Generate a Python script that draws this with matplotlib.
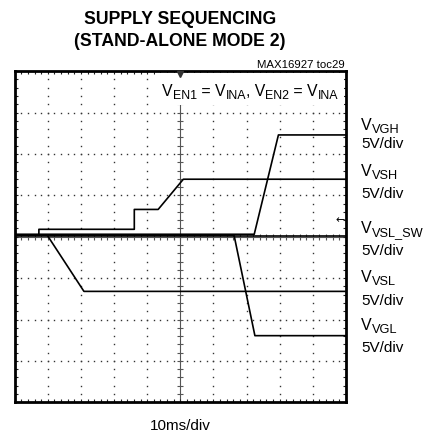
import numpy as np
import matplotlib
matplotlib.use("Agg")
import matplotlib.pyplot as plt
from matplotlib.patches import Rectangle
from matplotlib.transforms import IdentityTransform

plt.rcParams['font.family'] = ['Liberation Sans', 'DejaVu Sans']

# ---- data (x in time divisions, y in vertical divisions) ----
vgh_t = [0, 7.23, 7.96, 10]
vgh_v = [0.06, 0.06, 2.46, 2.46]

vsh_t = [0, 0.73, 0.73, 3.61, 3.61, 4.33, 5.09, 10]
vsh_v = [0.04, 0.04, 0.18, 0.18, 0.66, 0.66, 1.39, 1.39]

vslsw_t = [0, 10]
vslsw_v = [0.03, 0.03]

vsl_t = [0, 0.98, 2.09, 10]
vsl_v = [0.04, 0.04, -1.32, -1.32]

vgl_t = [0, 6.62, 7.25, 10]
vgl_v = [0.04, 0.04, -2.39, -2.39]

label_subs = ['VGH', 'VSH', 'VSL_SW', 'VSL', 'VGL']
scale_text = '5V/div'

W, H = 427, 433
fig = plt.figure(figsize=(W / 100, H / 100), dpi=100)
renderer = fig.canvas.get_renderer()
ax = fig.add_axes([14.7 / W, 1 - 402.3 / H, 331.3 / W, 331.1 / H])
ax.set_xlim(0, 10)
ax.set_ylim(-4, 4)

# graticule dots
minor_x = np.arange(0, 10.001, 0.2)
minor_y = np.arange(-4, 4.001, 0.2)
for gy in [-3, -2, -1, 1, 2, 3]:
    ax.plot(minor_x, np.full_like(minor_x, gy), ls='none', marker='s', ms=1.0,
            color='#333333', mew=0, zorder=1)
for gx in [1, 2, 3, 4, 6, 7, 8, 9]:
    ax.plot(np.full_like(minor_y, gx), minor_y, ls='none', marker='s', ms=1.0,
            color='#333333', mew=0, zorder=1)

# center axes with ticks
ax.axhline(0, color='#555555', lw=0.8, zorder=1)
ax.axvline(5, color='#555555', lw=0.8, zorder=1)
ax.plot(minor_x, np.zeros_like(minor_x), ls='none', marker='|', ms=4.5,
        color='#555555', mew=0.8, zorder=1)
ax.plot(np.full_like(minor_y, 5), minor_y, ls='none', marker='_', ms=5,
        color='#555555', mew=0.8, zorder=1)

# traces
for t, v in [(vgh_t, vgh_v), (vsh_t, vsh_v), (vslsw_t, vslsw_v),
             (vsl_t, vsl_v), (vgl_t, vgl_v)]:
    ax.plot(t, v, color='black', lw=1.2, zorder=4)

# white box behind the condition text
ax.add_patch(Rectangle((0.4235, 0.898), 0.571, 0.097, transform=ax.transAxes,
                       facecolor='white', edgecolor='none', zorder=3))

ax.set_xticks(minor_x)
ax.set_yticks(minor_y)
ax.tick_params(which='both', direction='in', length=2.5, width=0.8,
               top=True, right=True, labelbottom=False, labelleft=False,
               color='#222222')
for s in ax.spines.values():
    s.set_linewidth(2.0)
    s.set_zorder(6)

# trigger marker and ground arrow
ax.plot([5], [3.93], marker='v', ms=5, color='#333333', clip_on=False, zorder=7)
ax.text(9.97, 0.40, '←', ha='right', va='center', fontsize=8,
        family='DejaVu Sans', zorder=7)


def px(x, y):
    return x / W, 1 - y / H


def rich(x, y, parts, size, subsize, drop, ha='left'):
    """Draw text made of (string, is_subscript) parts, x/y in image pixels (y from top, baseline)."""
    ident = IdentityTransform()
    base = H - y
    objs = []
    cur = 0.0
    for s, sub in parts:
        t = fig.text(cur, base - (drop if sub else 0), s, transform=ident,
                     fontsize=subsize if sub else size, ha='left', va='baseline',
                     zorder=8)
        bb = t.get_window_extent(renderer)
        objs.append((t, cur))
        cur += bb.width
    x0 = x - cur if ha == 'right' else x
    for t, off in objs:
        px_, py_ = t.get_position()
        t.set_position((x0 + off, py_))


fig.text(*px(180, 19), 'SUPPLY SEQUENCING', ha='center', va='center',
         fontsize=12.7, fontweight='bold')
fig.text(*px(180, 41), '(STAND-ALONE MODE 2)', ha='center', va='center',
         fontsize=12.7, fontweight='bold')
fig.text(*px(345, 68), 'MAX16927 toc29', ha='right', va='baseline', fontsize=8.2)

rich(338.5, 96, [('V', False), ('EN1', True), (' = V', False), ('INA', True),
                 (', V', False), ('EN2', True), (' = V', False), ('INA', True)],
     11.4, 8.9, 2.6, ha='right')

label_base = [130, 176, 233, 282, 330]
scale_base = [148.5, 198, 255, 305, 352]
for sub, yb, ys in zip(label_subs, label_base, scale_base):
    rich(361, yb, [('V', False), (sub, True)], 11.5, 9.2, 3.0)
    fig.text(*px(361, ys), scale_text, ha='left', va='baseline', fontsize=11)

fig.text(*px(180.5, 430.5), '10ms/div', ha='center', va='baseline', fontsize=11)

fig.savefig('out.png', dpi=100)
